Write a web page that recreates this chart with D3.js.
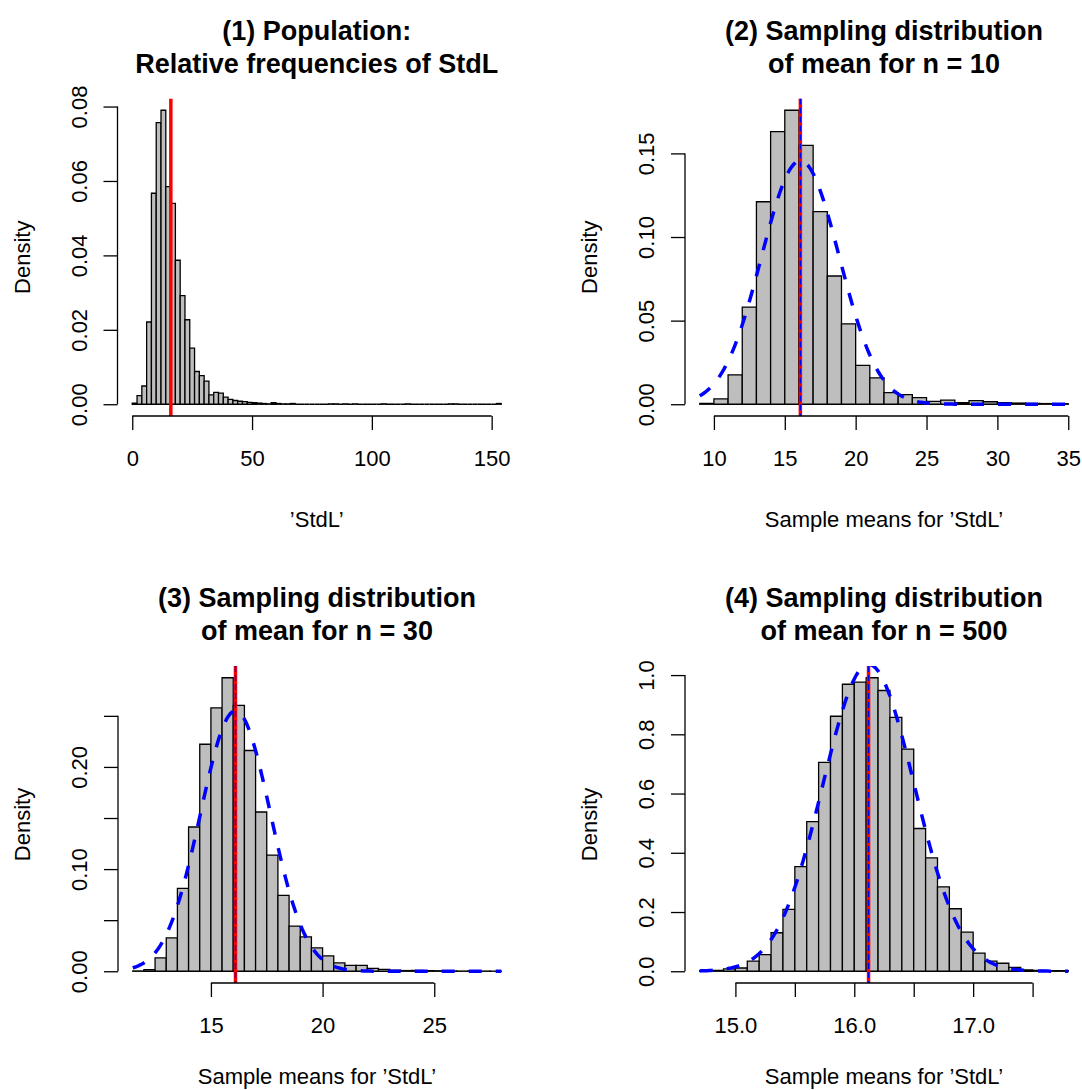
<!DOCTYPE html>
<html><head><meta charset="utf-8">
<script src="https://cdn.jsdelivr.net/npm/d3@7"></script>
<style>
body{margin:0;background:#fff}
svg{display:block}
text{font-family:"Liberation Sans",Arial,Helvetica,sans-serif;fill:#000}
</style>
</head><body>
<svg id="chart" width="1082" height="1090"></svg>
<script>
// ---------- data ----------
// (1) population histogram: bins of width 2 starting at 0
const popBinStart = 0, popBinWidth = 2;
const popDensity = [
  0.0003, 0.0023, 0.0049, 0.0221, 0.0567, 0.0757, 0.0790, 0.0585, 0.0540, 0.0387,
  0.0292, 0.0227, 0.0151, 0.0088, 0.0077, 0.0062, 0.0025, 0.0032, 0.0030, 0.0019,
  0.0013, 0.0010, 0.0008, 0.0007, 0.0005, 0.0004, 0.0003, 0.0002, 0.0001, 0.0004,
  0.0002, 0.0001, 0.0001, 0.0002, 0, 0, 0, 0, 0, 0,
  0, 0.0001, 0.0001, 0, 0.0001, 0, 0.0001, 0, 0, 0,
  0, 0, 0.0001, 0, 0, 0, 0, 0.0001, 0, 0,
  0, 0, 0, 0, 0, 0, 0.0001, 0.0001, 0, 0,
  0, 0, 0, 0, 0, 0, 0.0002
];
// (2) sample means n = 10: bins of width 1 starting at 9
const n10BinStart = 9, n10BinWidth = 1;
const n10Density = [
  0.0005, 0.0032, 0.0176, 0.0581, 0.1211, 0.1630, 0.1758, 0.1548, 0.1152, 0.0767,
  0.0481, 0.0233, 0.0158, 0.0069, 0.0058, 0.0039, 0.0017, 0.0025, 0.0009, 0.0022,
  0.0015, 0.0010, 0.0007, 0.0005, 0.0004, 0.0003
];
// (3) sample means n = 30: bins of width 0.5 starting at 11.5
const n30BinStart = 11.5, n30BinWidth = 0.5;
const n30Density = [
  0.0003, 0.0016, 0.0131, 0.0327, 0.0811, 0.1412, 0.2222, 0.2578, 0.2873, 0.2602,
  0.2161, 0.1559, 0.1137, 0.0742, 0.0441, 0.0337, 0.0229, 0.0151, 0.0082, 0.0057,
  0.0057, 0.0028, 0.0018, 0.0010, 0.0007, 0.0008, 0.0006, 0.0005, 0.0003, 0.0002,
  0.0002, 0.0002, 0.0001
];
// (4) sample means n = 500: bins of width 0.1 starting at 14.7
const n500BinStart = 14.7, n500BinWidth = 0.1;
const n500Density = [
  0.002, 0.003, 0.008, 0.011, 0.034, 0.056, 0.130, 0.209, 0.353, 0.505,
  0.705, 0.861, 0.969, 0.976, 0.991, 0.948, 0.857, 0.750, 0.482, 0.383,
  0.285, 0.211, 0.132, 0.061, 0.034, 0.027, 0.013, 0.005, 0.003, 0.002,
  0.002
];
// vertical lines and normal curves
const popMean = 16.1;
const sampleMeanOfMeans = [16.1, 16.1, 16.12];
const normalSd = [2.74, 1.565, 0.385];

// titles and labels
const titles = [
  ["(1) Population:", "Relative frequencies of StdL"],
  ["(2) Sampling distribution", "of mean for n = 10"],
  ["(3) Sampling distribution", "of mean for n = 30"],
  ["(4) Sampling distribution", "of mean for n = 500"]
];
const xLabels = ["\u2019StdL\u2019", "Sample means for \u2019StdL\u2019", "Sample means for \u2019StdL\u2019", "Sample means for \u2019StdL\u2019"];
const yLabel = "Density";
// ticks
const xTicks = [[0, 50, 100, 150], [10, 15, 20, 25, 30, 35], [15, 20, 25], [15.0, 15.5, 16.0, 16.5, 17.0, 17.5]];
const xTickLabels = [["0", "50", "100", "150"], ["10", "15", "20", "25", "30", "35"], ["15", "20", "25"], ["15.0", "", "16.0", "", "17.0", ""]];
const yTicks = [[0, 0.02, 0.04, 0.06, 0.08], [0, 0.05, 0.10, 0.15], [0, 0.05, 0.10, 0.15, 0.20, 0.25], [0, 0.2, 0.4, 0.6, 0.8, 1.0]];
const yTickLabels = [["0.00", "0.02", "0.04", "0.06", "0.08"], ["0.00", "0.05", "0.10", "0.15"], ["0.00", "", "0.10", "", "0.20", ""], ["0.0", "0.2", "0.4", "0.6", "0.8", "1.0"]];

// ---------- layout ----------
const regions = [
  {L: 117.5, R: 516, T: 98.5, B: 416, xlab: 527},
  {L: 685, R: 1083, T: 98.5, B: 416, xlab: 527},
  {L: 118, R: 516, T: 666, B: 983, xlab: 1084},
  {L: 685, R: 1083, T: 666, B: 983, xlab: 1084}
];

const panels = [
  {start: popBinStart, width: popBinWidth, dens: popDensity, vline: popMean, curve: null},
  {start: n10BinStart, width: n10BinWidth, dens: n10Density, vline: sampleMeanOfMeans[0], curve: {m: sampleMeanOfMeans[0], s: normalSd[0]}},
  {start: n30BinStart, width: n30BinWidth, dens: n30Density, vline: sampleMeanOfMeans[1], curve: {m: sampleMeanOfMeans[1], s: normalSd[1]}},
  {start: n500BinStart, width: n500BinWidth, dens: n500Density, vline: sampleMeanOfMeans[2], curve: {m: sampleMeanOfMeans[2], s: normalSd[2]}}
];

const svg = d3.select("#chart");
const FS = 22, FT = 27, LW = 1.3;

panels.forEach((p, i) => {
  const r = regions[i];
  const bins = p.dens.map((d, k) => ({x0: p.start + k * p.width, x1: p.start + (k + 1) * p.width, d}));
  const lo = bins[0].x0, hi = bins[bins.length - 1].x1;
  const ext = 0.04 * (hi - lo);
  const x = d3.scaleLinear().domain([lo - ext, hi + ext]).range([r.L, r.R]);
  const ymax = d3.max(p.dens);
  const y = d3.scaleLinear().domain([-0.04 * ymax, 1.04 * ymax]).range([r.B, r.T]);

  const g = svg.append("g");
  const clipId = "clip" + i;
  g.append("clipPath").attr("id", clipId).append("rect")
    .attr("x", r.L).attr("y", r.T).attr("width", r.R - r.L).attr("height", r.B - r.T);
  const plot = g.append("g").attr("clip-path", `url(#${clipId})`);

  plot.selectAll("path.bar").data(bins).join("path").attr("class", "bar")
    .attr("d", d => `M${x(d.x0)},${y(0)}V${y(d.d)}H${x(d.x1)}V${y(0)}Z`)
    .attr("fill", "#bebebe").attr("stroke", "#000").attr("stroke-width", LW);

  if (p.curve) {
    const pts = d3.range(0, 201).map(k => {
      const xv = lo + (hi - lo) * k / 200;
      const z = (xv - p.curve.m) / p.curve.s;
      return [xv, Math.exp(-0.5 * z * z) / (p.curve.s * Math.sqrt(2 * Math.PI))];
    });
    plot.append("path").datum(pts)
      .attr("d", d3.line().x(d => x(d[0])).y(d => y(d[1])))
      .attr("fill", "none").attr("stroke", "#0000ff").attr("stroke-width", 3.5)
      .attr("stroke-dasharray", "13,14");
  }

  plot.append("line").attr("x1", x(p.vline)).attr("x2", x(p.vline))
    .attr("y1", r.T).attr("y2", r.B).attr("stroke", "#ff0000").attr("stroke-width", 3.5);
  if (p.curve) {
    plot.append("line").attr("x1", x(p.curve.m)).attr("x2", x(p.curve.m))
      .attr("y1", r.T).attr("y2", r.B).attr("stroke", "#0000ff").attr("stroke-width", 1.4)
      .attr("stroke-dasharray", "6,3");
  }

  // x axis
  const xt = xTicks[i];
  const xa = g.append("g").attr("transform", `translate(0,${r.B})`)
    .call(d3.axisBottom(x).tickValues(xt).tickSize(14).tickSizeOuter(0).tickPadding(20.4)
      .tickFormat((d, k) => xTickLabels[i][k]));
  xa.select(".domain").attr("d", `M${x(xt[0])},0H${x(xt[xt.length - 1])}`)
    .attr("stroke-width", LW);
  xa.selectAll(".tick line").attr("stroke-width", LW);
  xa.selectAll(".tick text").attr("font-size", FS).attr("font-family", null);

  // y axis
  const yt = yTicks[i];
  const ya = g.append("g").attr("transform", `translate(${r.L},0)`)
    .call(d3.axisLeft(y).tickValues(yt).tickSize(14).tickSizeOuter(0)
      .tickFormat((d, k) => yTickLabels[i][k]));
  ya.select(".domain").attr("d", `M0,${y(yt[0])}V${y(yt[yt.length - 1])}`)
    .attr("stroke-width", LW);
  ya.selectAll(".tick line").attr("stroke-width", LW);
  ya.selectAll(".tick text").attr("font-size", FS).attr("font-family", null)
    .attr("x", null).attr("dy", null).attr("text-anchor", "middle")
    .attr("transform", "translate(-31,0) rotate(-90)");

  const cx = (r.L + r.R) / 2;
  // titles
  titles[i].forEach((t, k) => {
    g.append("text").attr("x", cx).attr("y", r.T - 59 + k * 33)
      .attr("text-anchor", "middle").attr("font-size", FT).attr("font-weight", "bold").text(t);
  });
  // axis titles
  g.append("text").attr("x", cx).attr("y", r.xlab)
    .attr("text-anchor", "middle").attr("font-size", FS).text(xLabels[i]);
  g.append("text").attr("transform", `translate(${r.L - 88},${(r.T + r.B) / 2}) rotate(-90)`)
    .attr("text-anchor", "middle").attr("font-size", FS).text(yLabel);
});
</script>
</body></html>
